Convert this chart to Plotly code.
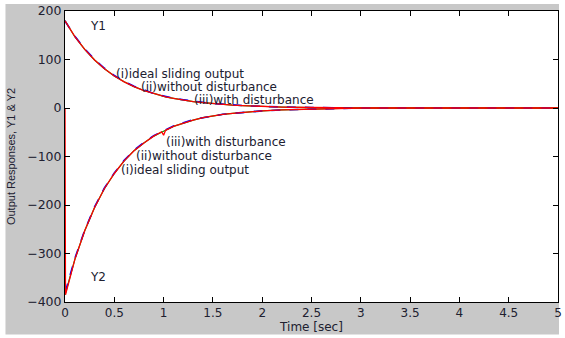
import plotly.graph_objects as go

# time samples (sec)
t = [0, 0.005, 0.1, 0.2, 0.3, 0.4, 0.5, 0.6, 0.7, 0.8, 0.9, 0.98, 1.0, 1.02, 1.1, 1.2, 1.3,
     1.4, 1.5, 1.6, 1.7, 1.8, 1.9, 2.0, 2.2, 2.5, 3.0, 4.0, 5.0]

# Y1 responses
y1_ideal = [180, 178, 147, 121, 99, 81, 66, 54, 44, 36, 30, 25, 24, 23, 20, 16, 13,
            11, 9, 7, 6, 5, 4, 3, 2, 1, 0, 0, 0]
y1_wo = [180, 178, 148, 122, 100, 82, 67, 55, 45, 37, 30, 26, 25, 24, 20, 17, 14,
         11, 9, 8, 6, 5, 4, 3, 2, 1, 0, 0, 0]
y1_w = [180, 178, 147, 121, 99, 81, 66, 54, 44, 36, 30, 25, 24, 23, 20, 16, 13,
        11, 9, 7, 6, 5, 4, 3, 2, 1, 0, 0, 0]

# Y2 responses
y2_ideal = [-385, -382, -312, -253, -205, -166, -135, -109, -88, -72, -58, -49, -47, -46, -38, -31, -25,
            -20, -16, -13, -11, -9, -7, -6, -4, -2, 0, 0, 0]
y2_wo = [-380, -378, -310, -252, -204, -165, -134, -108, -87, -71, -57, -48, -46, -45, -37, -30, -24,
         -20, -16, -13, -11, -9, -7, -6, -4, -2, 0, 0, 0]
y2_w = [0, -385, -312, -253, -205, -166, -135, -109, -88, -72, -58, -49, -56, -46, -38, -31, -25,
        -20, -16, -13, -11, -9, -7, -6, -4, -2, 0, 0, 0]

xticks = [0, 0.5, 1, 1.5, 2, 2.5, 3, 3.5, 4, 4.5, 5]
yticks = [-400, -300, -200, -100, 0, 100, 200]

labels_y1 = ["(i)ideal sliding output", "(ii)without disturbance", "(iii)with disturbance"]
labels_y2 = ["(iii)with disturbance", "(ii)without disturbance", "(i)ideal sliding output"]

fig = go.Figure()
fig.add_trace(go.Scatter(x=t, y=y1_ideal, mode="lines", line=dict(color="#00a000", width=1.2)))
fig.add_trace(go.Scatter(x=t, y=y1_wo, mode="lines", line=dict(color="#0000ff", width=1.6, dash="dash")))
fig.add_trace(go.Scatter(x=t, y=y1_w, mode="lines", line=dict(color="#ff0000", width=1.3)))
fig.add_trace(go.Scatter(x=t, y=y2_ideal, mode="lines", line=dict(color="#00a000", width=1.2)))
fig.add_trace(go.Scatter(x=t, y=y2_wo, mode="lines", line=dict(color="#0000ff", width=1.6, dash="dash")))
fig.add_trace(go.Scatter(x=t, y=y2_w, mode="lines", line=dict(color="#ff0000", width=1.3)))

W, H = 565, 338
L, R, T, B = 65, 3, 7, 36
pw, ph = W - L - R, H - T - B

def px(xp):
    return (xp - L) / pw

def py(yp):
    return (H - B - yp) / ph

shapes = [
    dict(type="rect", xref="paper", yref="paper", x0=px(5), x1=px(563), y0=py(335), y1=py(0),
         fillcolor="#c8c8c8", line=dict(width=0), layer="below"),
    dict(type="rect", xref="paper", yref="paper", x0=0, x1=1, y0=0, y1=1,
         fillcolor="white", line=dict(width=0), layer="below"),
]

txtcol = "#202030"
font = dict(family="DejaVu Sans, sans-serif", size=12, color=txtcol)
ann = []
ann.append(dict(x=0.23, y=169, text="Y1", showarrow=False, xanchor="left", font=font))
ann.append(dict(x=0.23, y=-349, text="Y2", showarrow=False, xanchor="left", font=font))
for (xx, yy), s in zip([(0.50, 70), (0.755, 43), (1.288, 16)], labels_y1):
    ann.append(dict(x=xx, y=yy, text=s, showarrow=False, xanchor="left", font=font))
for (xx, yy), s in zip([(1.0, -70), (0.70, -99), (0.55, -128)], labels_y2):
    ann.append(dict(x=xx, y=yy, text=s, showarrow=False, xanchor="left", font=font))

fig.update_layout(
    width=W, height=H,
    margin=dict(l=L, r=R, t=T, b=B),
    paper_bgcolor="white", plot_bgcolor="white",
    showlegend=False,
    shapes=shapes,
    annotations=ann,
    font=font,
    xaxis=dict(range=[0, 5], tickvals=xticks, ticktext=[f"{v:g}" for v in xticks],
               ticks="inside", ticklen=5, tickcolor="black", showgrid=False, zeroline=False,
               showline=True, linecolor="black", linewidth=1, mirror="ticks",
               ticklabeloverflow="allow",
               tickfont=dict(family="DejaVu Sans, sans-serif", size=12, color=txtcol),
               title=dict(text="Time [sec]", standoff=1,
                          font=dict(family="DejaVu Sans, sans-serif", size=12, color=txtcol))),
    yaxis=dict(range=[-400, 200], tickvals=yticks,
               ticks="inside", ticklen=5, tickcolor="black", showgrid=False, zeroline=False,
               showline=True, linecolor="black", linewidth=1, mirror="ticks",
               ticklabeloverflow="allow",
               tickfont=dict(family="DejaVu Sans, sans-serif", size=12.5, color=txtcol),
               title=dict(text="Output Responses, Y1 & Y2", standoff=9,
                          font=dict(family="Liberation Sans, Arial, sans-serif", size=11, color=txtcol))),
)

fig.write_html("out.html")
